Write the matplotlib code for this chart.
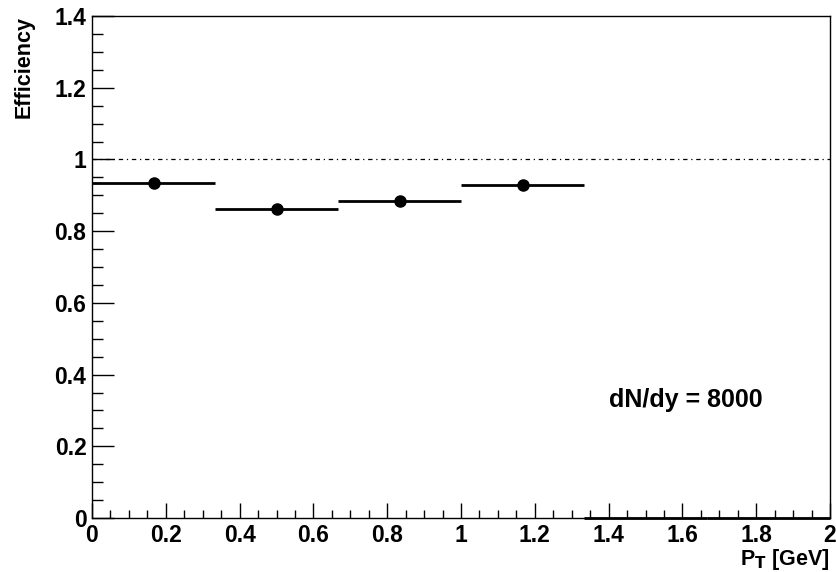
import matplotlib
matplotlib.use("Agg")
import matplotlib.pyplot as plt
from matplotlib.ticker import MultipleLocator, FuncFormatter

# bin edges and efficiency per pT bin
bin_edges = [0, 1/3, 2/3, 1.0, 4/3, 5/3, 2.0]
efficiency = [0.935, 0.861, 0.883, 0.929, 0.0, 0.0]
label_text = "dN/dy = 8000"

plt.rcParams['font.family'] = ['Liberation Sans', 'DejaVu Sans']
plt.rcParams['font.weight'] = 'bold'
plt.rcParams['mathtext.default'] = 'bf'

fig = plt.figure(figsize=(8.36, 5.72), dpi=100)
ax = fig.add_axes([92/836, 54/572, (830-92)/836, (518-16)/572])

centers = [(bin_edges[i] + bin_edges[i+1]) / 2 for i in range(len(efficiency))]
halfw = [(bin_edges[i+1] - bin_edges[i]) / 2 for i in range(len(efficiency))]

# filled bins get a marker, empty ones only the bin line
for c, h, e in zip(centers, halfw, efficiency):
    ax.hlines(e, c - h, c + h, color='black', lw=2, clip_on=False, zorder=3)
    if e > 0:
        ax.plot(c, e, 'o', color='black', ms=8, zorder=4)

ax.axhline(1.0, color='black', lw=0.9, dashes=(3.5, 3, 1, 3))

ax.set_xlim(0, 2)
ax.set_ylim(0, 1.4)
ax.xaxis.set_major_locator(MultipleLocator(0.2))
ax.xaxis.set_minor_locator(MultipleLocator(0.05))
ax.yaxis.set_major_locator(MultipleLocator(0.2))
ax.yaxis.set_minor_locator(MultipleLocator(0.05))

fmt = FuncFormatter(lambda v, p: ('%g' % round(v, 2)))
ax.xaxis.set_major_formatter(fmt)
ax.yaxis.set_major_formatter(fmt)

ax.tick_params(which='both', direction='in', top=False, right=False,
               labelsize=16.5, width=1)
ax.tick_params(axis='x', which='major', length=11, pad=4)
ax.tick_params(axis='x', which='minor', length=5.5)
ax.tick_params(axis='y', which='major', length=16, pad=4)
ax.tick_params(axis='y', which='minor', length=8)
for lab in ax.get_xticklabels() + ax.get_yticklabels():
    lab.set_fontweight('bold')
for s in ax.spines.values():
    s.set_linewidth(1)

ax.set_ylabel("Efficiency", fontsize=15.5, fontweight='bold', loc='top', labelpad=14)
ax.set_xlabel(r"P$_\mathrm{T}$ [GeV]", fontsize=15.5, fontweight='bold', loc='right', labelpad=0)

ax.text(1.61, 0.33, label_text, fontsize=18, fontweight='bold', ha='center', va='center')

fig.savefig("out.png", dpi=100)
